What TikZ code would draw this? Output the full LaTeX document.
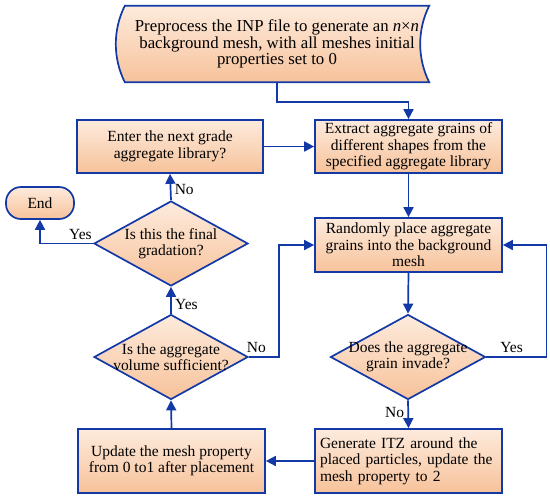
\documentclass[tikz,border=0pt]{standalone}
\usepackage{fontspec}
\setmainfont{Liberation Serif}
\definecolor{flowblue}{HTML}{1239A6}
\definecolor{peachtop}{HTML}{FDEBDD}
\definecolor{peachbot}{HTML}{F7C29A}
\usetikzlibrary{shapes.geometric, arrows.meta, positioning, calc, backgrounds}
\tikzset{
	flowtext/.style={font=\fontsize{15.5}{16.5}\selectfont}
}
\tikzset{
	procbox/.style={flowtext, draw=flowblue, line width=1.7pt, top color=peachtop, bottom color=peachbot,
		align=center, minimum width=187pt, minimum height=53pt, inner sep=2pt}
}
\tikzset{
	choice/.style={flowtext, diamond, draw=flowblue, line width=1.7pt, top color=peachtop, bottom color=peachbot,
		align=center, aspect=1.81, inner xsep=-17pt, inner ysep=0pt, minimum width=154pt, minimum height=85pt}
}
\tikzset{
	flowarrow/.style={draw=flowblue, line width=1.7pt, -{Triangle[length=10pt,width=10pt]}}
}

\begin{document}
\begin{tikzpicture}[x=1pt,y=-1pt]
      \useasboundingbox (0,0) rectangle (550,499);
      % start block with curved sides
      \node[font=\fontsize{16.8}{16.8}\selectfont, minimum width=304pt, minimum height=76pt, align=center] (prep) at (277,44)
        {Preprocess the INP file to generate an \textit{n}×\textit{n}\\ background mesh, with all meshes initial\\ properties set to 0};
      \begin{scope}[on background layer]
        \draw[draw=flowblue, line width=1.7pt, top color=peachtop, bottom color=peachbot]
          (prep.north west) -- (prep.north east)
          .. controls ($(prep.north east)+(-12,24)$) and ($(prep.south east)+(-12,-24)$) .. (prep.south east)
          -- (prep.south west)
          .. controls ($(prep.south west)+(-12,-24)$) and ($(prep.north west)+(-12,24)$) .. (prep.north west) -- cycle;
      \end{scope}
      \node[procbox] (extract) at (408.5,146.5) {Extract aggregate grains of\\ different shapes from the\\ specified aggregate library};
      \node[procbox, minimum width=186pt] (enter) at (170,146.5) {Enter the next grade\\ aggregate library?};
      \node[flowtext, draw=flowblue, line width=1.7pt, top color=peachtop, bottom color=peachbot,
        rounded corners=15pt, minimum width=68pt, minimum height=32pt] (finish) at (40,203) {End};
      \node[choice] (final) at (171,243.5) {Is this the final\\ gradation?};
      \node[procbox, minimum height=54pt] (place) at (408.5,245) {Randomly place aggregate\\ grains into the background\\ mesh};
      \node[choice, minimum width=155pt] (invade) at (408,357) {Does the aggregate\\ grain invade?};
      \node[choice] (volume) at (171,357) {Is the aggregate\\ volume sufficient?};
      \node[procbox, minimum height=64pt, align=left, text width=177pt, inner xsep=5pt] (itz) at (408.5,461)
        {Generate ITZ around the\\ placed particles, update the\\ mesh property to 2};
      \node[procbox, minimum height=64pt] (update) at (171.5,461) {Update the mesh property\\ from 0 to1 after placement};
      % connectors
      \draw[flowarrow] (prep.south) -- ++(0,20) -| (extract.north);
      \draw[flowarrow] (enter.east) -- (extract.west);
      \draw[flowarrow] (extract.south) -- (place.north);
      \draw[flowarrow] (place.south) -- (invade.north);
      \draw[flowarrow] (invade.east) -- node[flowtext, above, pos=0.42] {Yes} ++(60,0) |- (place.east);
      \draw[flowarrow] (invade.south) -- node[flowtext, left, pos=0.45] {No} (itz.north);
      \draw[flowarrow] (itz.west) -- (update.east);
      \draw[flowarrow] (update.north) -- (volume.south);
      \draw[flowarrow] (volume.north) -- node[flowtext, right, pos=0.35] {Yes} (final.south);
      \draw[flowarrow] (volume.east) -- node[flowtext, above, pos=0.25] {No} ++(30,0) |- (place.west);
      \draw[flowarrow] (final.north) -- node[flowtext, right, pos=0.4] {No} (enter.south);
      \draw[flowarrow] (final.west) -| node[flowtext, above, pos=0.12] {Yes} (finish.south);
\end{tikzpicture}
\end{document}
